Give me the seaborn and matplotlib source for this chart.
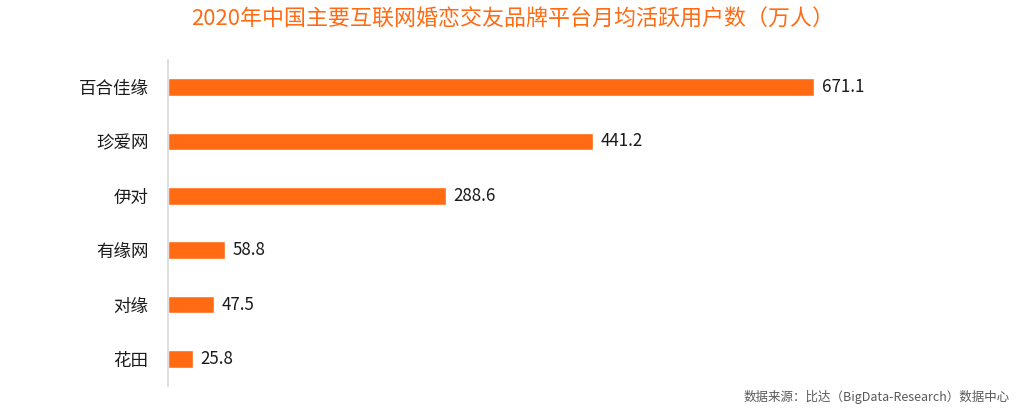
import matplotlib
matplotlib.use("Agg")
import matplotlib.pyplot as plt
import seaborn as sns
import pandas as pd

categories = ["百合佳缘", "珍爱网", "伊对", "有缘网", "对缘", "花田"]
values = [671.1, 441.2, 288.6, 58.8, 47.5, 25.8]
value_labels = ["671.1", "441.2", "288.6", "58.8", "47.5", "25.8"]
title = "2020年中国主要互联网婚恋交友品牌平台月均活跃用户数（万人）"
source = "数据来源：比达（BigData-Research）数据中心"

sns.set_theme(style="white")
plt.rcParams['font.family'] = ['Noto Sans CJK SC', 'DejaVu Sans']

df = pd.DataFrame({"cat": categories, "val": values})

fig = plt.figure(figsize=(10.35, 4.08), dpi=100)
ax = fig.add_axes([168/1035, 1-386/408, (1000-168)/1035, (386-60)/408])
sns.barplot(data=df, y="cat", x="val", orient="h", color="#FF6A12",
            saturation=1, width=0.33, ax=ax)
ax.set_xlim(0, 864)
ax.set_ylim(5.5, -0.5)
ax.set_xlabel("")
ax.set_ylabel("")
ax.set_xticks([])
for s in ["top", "right", "bottom"]:
    ax.spines[s].set_visible(False)
ax.spines["left"].set_color("#D9D9D9")
ax.spines["left"].set_linewidth(1.2)
ax.tick_params(axis="y", length=0, pad=14, labelsize=12.6, labelcolor="#1a1a1a")

for i, (v, lab) in enumerate(zip(values, value_labels)):
    ax.text(v + 8, i, lab, va="center", ha="left", fontsize=12.2, color="#1a1a1a")

fig.text(513/1035, 1-20/408, title, ha="center", va="center", fontsize=15.8,
         color="#FF6A12")
fig.text(1010/1035, 1-397/408, source, ha="right", va="center", fontsize=9,
         color="#595959")

fig.savefig("out.png", dpi=100)
